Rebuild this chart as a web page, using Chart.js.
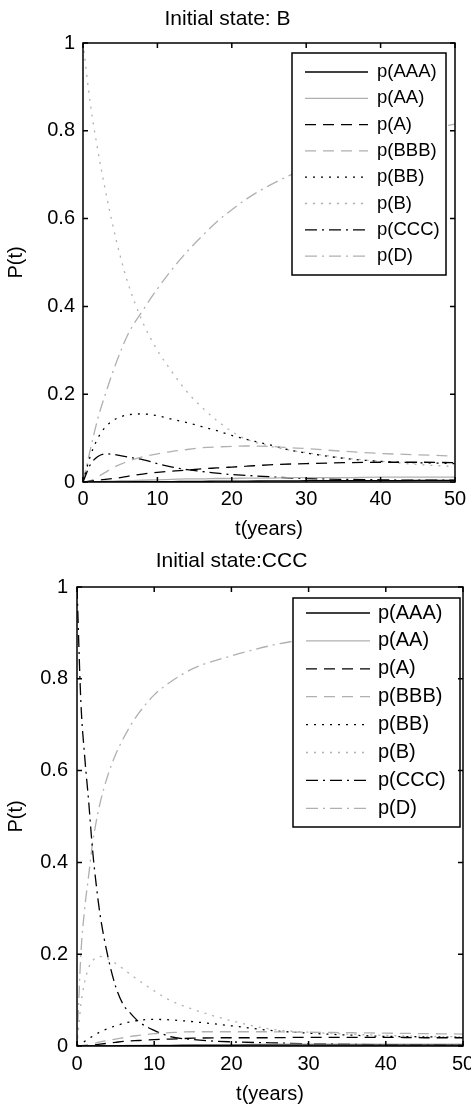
<!DOCTYPE html>
<html>
<head>
<meta charset="UTF-8">
<script src="https://cdn.jsdelivr.net/npm/chart.js@4.4.1/dist/chart.umd.min.js"></script>
<style>
  body { margin: 0; background: #fff; }
  .panel { position: absolute; left: 0; width: 471px; }
  #top { top: 0; height: 540px; }
  #bottom { top: 540px; height: 564px; }
</style>
</head>
<body>
<div class="panel" id="top"><canvas id="chartB"></canvas></div>
<div class="panel" id="bottom"><canvas id="chartCCC"></canvas></div>
<script>
const seriesNames = ['p(AAA)', 'p(AA)', 'p(A)', 'p(BBB)', 'p(BB)', 'p(B)', 'p(CCC)', 'p(D)'];
const xTicks = [0, 10, 20, 30, 40, 50];
const yTicks = [0, 0.2, 0.4, 0.6, 0.8, 1];

// initial state B
const tB   = [0, 1, 2, 3, 4, 5, 6, 8, 10, 12, 14, 16, 18, 20, 22, 25, 28, 30, 35, 40, 45, 50];
const bAAA = [0, 0, 0, 0, 0, 0.0005, 0.0005, 0.001, 0.001, 0.001, 0.0015, 0.0015, 0.002, 0.002, 0.002, 0.0025, 0.0025, 0.003, 0.003, 0.003, 0.0035, 0.0035];
const bAA  = [0, 0.001, 0.001, 0.002, 0.002, 0.003, 0.003, 0.004, 0.005, 0.006, 0.007, 0.007, 0.008, 0.008, 0.009, 0.009, 0.01, 0.01, 0.01, 0.011, 0.011, 0.011];
const bA   = [0, 0.002, 0.004, 0.006, 0.008, 0.01, 0.013, 0.018, 0.022, 0.025, 0.027, 0.03, 0.032, 0.034, 0.036, 0.039, 0.041, 0.042, 0.044, 0.045, 0.045, 0.044];
const bBBB = [0, 0.003, 0.012, 0.022, 0.032, 0.04, 0.047, 0.057, 0.064, 0.07, 0.074, 0.078, 0.08, 0.081, 0.082, 0.081, 0.078, 0.076, 0.07, 0.065, 0.062, 0.059];
const bBB  = [0, 0.06, 0.1, 0.125, 0.14, 0.148, 0.153, 0.155, 0.151, 0.143, 0.135, 0.126, 0.117, 0.106, 0.097, 0.085, 0.072, 0.066, 0.054, 0.047, 0.044, 0.042];
const bB   = [1, 0.86, 0.755, 0.665, 0.585, 0.515, 0.455, 0.365, 0.3, 0.25, 0.205, 0.17, 0.14, 0.115, 0.097, 0.082, 0.072, 0.067, 0.055, 0.047, 0.04, 0.035];
const bCCC = [0, 0.04, 0.058, 0.064, 0.063, 0.06, 0.057, 0.051, 0.042, 0.034, 0.028, 0.024, 0.02, 0.017, 0.015, 0.012, 0.009, 0.008, 0.006, 0.005, 0.004, 0.004];
const bD   = [0, 0.075, 0.145, 0.2, 0.25, 0.295, 0.335, 0.39, 0.44, 0.485, 0.525, 0.56, 0.593, 0.62, 0.645, 0.675, 0.7, 0.713, 0.748, 0.778, 0.8, 0.815];

// initial state CCC
const tC   = [0, 0.5, 1, 1.5, 2, 2.5, 3, 4, 5, 6, 7, 8, 10, 12, 15, 20, 25, 30, 35, 40, 45, 50];
const cAAA = [0, 0, 0, 0, 0, 0, 0, 0, 0.0005, 0.0005, 0.0005, 0.001, 0.001, 0.001, 0.0015, 0.0015, 0.002, 0.002, 0.002, 0.002, 0.002, 0.002];
const cAA  = [0, 0, 0, 0, 0, 0, 0.0005, 0.0005, 0.001, 0.001, 0.0015, 0.0015, 0.002, 0.002, 0.003, 0.003, 0.004, 0.004, 0.004, 0.004, 0.004, 0.004];
const cA   = [0, 0, 0.001, 0.001, 0.002, 0.003, 0.004, 0.006, 0.008, 0.01, 0.011, 0.012, 0.014, 0.015, 0.017, 0.018, 0.018, 0.019, 0.019, 0.019, 0.018, 0.018];
const cBBB = [0, 0.001, 0.002, 0.003, 0.005, 0.007, 0.009, 0.012, 0.015, 0.018, 0.021, 0.023, 0.027, 0.029, 0.031, 0.031, 0.031, 0.03, 0.029, 0.028, 0.027, 0.026];
const cBB  = [0, 0.005, 0.01, 0.016, 0.021, 0.026, 0.031, 0.038, 0.044, 0.049, 0.053, 0.056, 0.058, 0.057, 0.053, 0.044, 0.034, 0.028, 0.024, 0.021, 0.02, 0.019];
const cB   = [0, 0.09, 0.14, 0.17, 0.185, 0.193, 0.195, 0.19, 0.18, 0.168, 0.155, 0.143, 0.12, 0.1, 0.08, 0.055, 0.037, 0.03, 0.026, 0.023, 0.021, 0.02];
const cCCC = [1, 0.75, 0.63, 0.535, 0.43, 0.35, 0.285, 0.195, 0.13, 0.09, 0.07, 0.053, 0.034, 0.021, 0.014, 0.009, 0.007, 0.005, 0.004, 0.003, 0.003, 0.002];
const cD   = [0, 0.2, 0.3, 0.37, 0.44, 0.49, 0.53, 0.59, 0.635, 0.67, 0.7, 0.725, 0.765, 0.792, 0.822, 0.85, 0.872, 0.888, 0.903, 0.915, 0.924, 0.93];

const FONT = "'Liberation Sans', Arial, sans-serif";
const GRAY = '#b0b0b0';
const lineStyles = [
  { color: '#000', dash: [] },
  { color: GRAY, dash: [] },
  { color: '#000', dash: [11, 7] },
  { color: GRAY, dash: [11, 7] },
  { color: '#000', dash: [2, 6] },
  { color: GRAY, dash: [2, 6] },
  { color: '#000', dash: [12, 5, 2, 5] },
  { color: GRAY, dash: [12, 5, 2, 5] }
];

// matlab style box with inward ticks
const framePlugin = {
  id: 'frame',
  afterDraw(chart) {
    const { ctx, chartArea: a, scales } = chart;
    ctx.save();
    ctx.strokeStyle = '#000';
    ctx.lineWidth = 1.5;
    ctx.strokeRect(a.left, a.top, a.right - a.left, a.bottom - a.top);
    ctx.beginPath();
    xTicks.forEach(v => {
      const px = scales.x.getPixelForValue(v);
      ctx.moveTo(px, a.bottom); ctx.lineTo(px, a.bottom - 5);
      ctx.moveTo(px, a.top); ctx.lineTo(px, a.top + 5);
    });
    yTicks.forEach(v => {
      const py = scales.y.getPixelForValue(v);
      ctx.moveTo(a.left, py); ctx.lineTo(a.left + 5, py);
      ctx.moveTo(a.right, py); ctx.lineTo(a.right - 5, py);
    });
    ctx.stroke();
    ctx.restore();
  }
};

// legend box inside the axes, top right
const boxLegend = {
  id: 'boxLegend',
  afterDatasetsDraw(chart, args, o) {
    const { ctx, chartArea: a } = chart;
    const left = a.right - o.dx - o.w, top = a.top + o.dy;
    ctx.save();
    ctx.fillStyle = '#fff';
    ctx.fillRect(left, top, o.w, o.h);
    ctx.strokeStyle = '#000';
    ctx.lineWidth = 1.5;
    ctx.strokeRect(left, top, o.w, o.h);
    chart.data.datasets.forEach((ds, i) => {
      const y = top + o.first + i * o.rowH;
      ctx.beginPath();
      ctx.strokeStyle = ds.borderColor;
      ctx.lineWidth = ds.borderWidth;
      ctx.setLineDash(ds.borderDash);
      ctx.moveTo(left + o.lineX0, y);
      ctx.lineTo(left + o.lineX1, y);
      ctx.stroke();
      ctx.setLineDash([]);
      ctx.fillStyle = '#000';
      ctx.font = o.fontSize + 'px ' + FONT;
      ctx.textBaseline = 'middle';
      ctx.textAlign = 'left';
      ctx.fillText(ds.label, left + o.textX, y);
    });
    ctx.restore();
  }
};

function makeChart(id, title, t, series, g) {
  const datasets = series.map((vals, i) => ({
    label: seriesNames[i],
    data: vals.map((v, k) => ({ x: t[k], y: v })),
    borderColor: lineStyles[i].color,
    borderDash: lineStyles[i].dash,
    borderWidth: 1.3,
    pointRadius: 0,
    fill: false,
    cubicInterpolationMode: 'monotone'
  }));
  return new Chart(document.getElementById(id), {
    type: 'line',
    data: { datasets },
    plugins: [boxLegend, framePlugin],
    options: {
      responsive: true,
      maintainAspectRatio: false,
      animation: false,
      layout: { padding: { left: 0, right: g.padRight, top: 0, bottom: 0 } },
      plugins: {
        legend: { display: false },
        tooltip: { enabled: false },
        title: {
          display: true, text: title, color: '#000',
          font: { family: FONT, size: 21, weight: 'normal' },
          padding: { top: g.titleTop, bottom: g.titleBottom }
        },
        boxLegend: g.legend
      },
      scales: {
        x: {
          type: 'linear', min: 0, max: 50,
          afterBuildTicks: s => { s.ticks = xTicks.map(v => ({ value: v })); },
          ticks: { color: '#000', font: { family: FONT, size: 20 }, padding: g.xPad, maxRotation: 0, autoSkip: false, callback: v => String(v) },
          grid: { display: false, drawTicks: false },
          border: { display: false },
          title: { display: true, text: 't(years)', color: '#000', font: { family: FONT, size: 20, lineHeight: 1 }, padding: { top: 0, bottom: g.xTitlePad } },
          afterFit: s => { s.height = g.xH; s.paddingLeft = 0; s.paddingRight = 0; }
        },
        y: {
          type: 'linear', min: 0, max: 1,
          afterBuildTicks: s => { s.ticks = yTicks.map(v => ({ value: v })); },
          ticks: { color: '#000', font: { family: FONT, size: 20 }, padding: g.yPad, callback: v => String(+v.toFixed(1)) },
          grid: { display: false, drawTicks: false },
          border: { display: false },
          title: { display: true, text: 'P(t)', color: '#000', font: { family: FONT, size: 20, lineHeight: 1 }, padding: { top: 6, bottom: 0 } },
          afterFit: s => { s.width = g.left; s.paddingTop = 0; s.paddingBottom = 0; }
        }
      }
    }
  });
}

makeChart('chartB', 'Initial state: B', tB, [bAAA, bAA, bA, bBBB, bBB, bB, bCCC, bD], {
  left: 83, padRight: 16, titleTop: 6.4, titleBottom: 11.4, xH: 58, xPad: 5, xTitlePad: 1, yPad: 8,
  legend: { dx: 9, dy: 10, w: 154, h: 222, first: 19, rowH: 26.3, lineX0: 13, lineX1: 76, textX: 85, fontSize: 18.5 }
});

makeChart('chartCCC', 'Initial state:CCC', tC, [cAAA, cAA, cA, cBBB, cBB, cB, cCCC, cD], {
  left: 77, padRight: 8, titleTop: 9.1, titleBottom: 12.7, xH: 58, xPad: 6, xTitlePad: 0, yPad: 9,
  legend: { dx: 3, dy: 11, w: 167, h: 229, first: 15, rowH: 27.9, lineX0: 13, lineX1: 77, textX: 85, fontSize: 20 }
});
</script>
</body>
</html>
